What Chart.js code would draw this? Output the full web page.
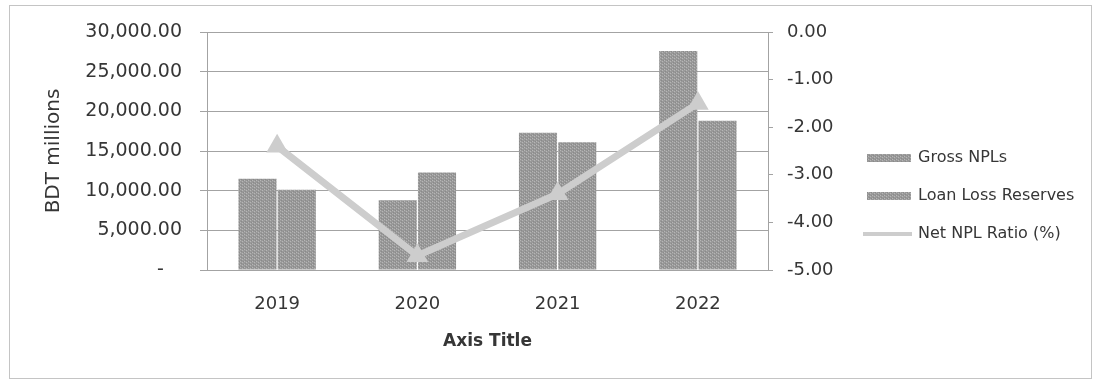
<!DOCTYPE html>
<html>
<head>
<meta charset="utf-8">
<script src="https://cdn.jsdelivr.net/npm/chart.js@4.4.1/dist/chart.umd.min.js"></script>
<style>
  html, body { margin: 0; padding: 0; background: #ffffff; }
  #wrap { position: relative; width: 1095px; height: 382px; }
  canvas { display: block; }
</style>
</head>
<body>
<div id="wrap"><canvas id="c" width="1095" height="382"></canvas></div>
<script>
// Years on the category axis
const years = ['2019', '2020', '2021', '2022'];
// BDT millions
const grossNPLs = [11500, 8800, 17300, 27600];
const loanLossReserves = [10100, 12300, 16100, 18800];
// Net NPL ratio, percent (right axis)
const netNplRatio = [-2.4, -4.7, -3.4, -1.5];
// Axis ranges and tick steps
const leftAxisRange = [0, 30000, 5000];
const rightAxisRange = [-5, 0, 1];

const FONT = 'DejaVu Sans';
const TEXT = '#363636';
const GRID = '#a3a3a3';
const LINE_GREY = '#cdcdcd';

// Speckled grey fill used for the bars
function speckle() {
  const p = document.createElement('canvas');
  p.width = 4; p.height = 3;
  const g = p.getContext('2d');
  g.fillStyle = '#999999';
  g.fillRect(0, 0, 4, 3);
  g.fillStyle = '#b6b6b6';
  g.fillRect(0, 0, 1, 1);
  g.fillRect(2, 1, 1, 1);
  g.fillStyle = '#8a8a8a';
  g.fillRect(1, 2, 1, 1);
  g.fillRect(3, 0, 1, 1);
  return g.createPattern(p, 'repeat');
}
const barFill = speckle();

// Outer frame of the chart
const framePlugin = {
  id: 'frame',
  beforeDraw(chart) {
    const ctx = chart.ctx;
    ctx.save();
    ctx.fillStyle = '#ffffff';
    ctx.fillRect(0, 0, chart.width, chart.height);
    ctx.strokeStyle = '#c4c4c4';
    ctx.lineWidth = 1;
    ctx.strokeRect(9.5, 5.5, chart.width - 13, chart.height - 9);
    ctx.restore();
  }
};

// Legend stacked to the right of the value axis
const sideLegend = {
  id: 'sideLegend',
  afterDraw(chart) {
    const ctx = chart.ctx;
    const x0 = 867, rows = [158, 196, 234];
    ctx.save();
    ctx.font = '16px "' + FONT + '"';
    ctx.textBaseline = 'middle';
    ctx.textAlign = 'left';
    chart.data.datasets.forEach((ds, i) => {
      const y = rows[i];
      if (ds.type === 'line') {
        ctx.strokeStyle = ds.borderColor;
        ctx.lineWidth = 4;
        ctx.beginPath();
        ctx.moveTo(x0 - 4, y);
        ctx.lineTo(x0 + 45, y);
        ctx.stroke();
      } else {
        ctx.fillStyle = ds.backgroundColor;
        ctx.fillRect(x0, y - 4, 44, 8);
      }
      ctx.fillStyle = TEXT;
      ctx.fillText(ds.label, x0 + 51, y);
    });
    ctx.restore();
  }
};

new Chart(document.getElementById('c'), {
  data: {
    labels: years,
    datasets: [
      {
        type: 'bar',
        label: 'Gross NPLs',
        data: grossNPLs,
        backgroundColor: barFill,
        yAxisID: 'y',
        order: 1,
        categoryPercentage: 0.56,
        barPercentage: 0.97
      },
      {
        type: 'bar',
        label: 'Loan Loss Reserves',
        data: loanLossReserves,
        backgroundColor: barFill,
        yAxisID: 'y',
        order: 1,
        categoryPercentage: 0.56,
        barPercentage: 0.97
      },
      {
        type: 'line',
        label: 'Net NPL Ratio (%)',
        data: netNplRatio,
        borderColor: LINE_GREY,
        backgroundColor: LINE_GREY,
        borderWidth: 7,
        pointStyle: 'triangle',
        pointRadius: 12.5,
        pointBorderWidth: 0,
        pointBackgroundColor: LINE_GREY,
        tension: 0,
        yAxisID: 'y1',
        order: 0
      }
    ]
  },
  options: {
    responsive: false,
    animation: false,
    devicePixelRatio: 1,
    layout: { padding: { left: 0, right: 237, top: 32, bottom: 0 } },
    plugins: {
      legend: { display: false },
      tooltip: { enabled: false }
    },
    scales: {
      x: {
        offset: true,
        grid: { display: false, drawTicks: false },
        border: { display: false },
        ticks: { color: TEXT, font: { family: FONT, size: 18 }, padding: 24 },
        title: {
          display: true,
          text: 'Axis Title',
          color: TEXT,
          font: { family: FONT, size: 17, weight: 'bold' },
          padding: { top: 0, bottom: 30 }
        },
        afterFit(scale) { scale.height = 112; }
      },
      y: {
        position: 'left',
        min: leftAxisRange[0],
        max: leftAxisRange[1],
        grid: { color: GRID, lineWidth: 1, tickLength: 7, tickColor: GRID },
        border: { display: true, color: GRID },
        ticks: {
          stepSize: leftAxisRange[2],
          color: TEXT,
          font: { family: FONT, size: 19 },
          padding: 18,
          callback: v => v === 0 ? '-   ' : v.toLocaleString('en-US', { minimumFractionDigits: 2, maximumFractionDigits: 2 })
        },
        title: {
          display: true,
          text: 'BDT millions',
          color: TEXT,
          font: { family: FONT, size: 20 },
          padding: { top: 42, bottom: 0 }
        },
        afterFit(scale) { scale.width = 207; }
      },
      y1: {
        position: 'right',
        min: rightAxisRange[0],
        max: rightAxisRange[1],
        grid: { drawOnChartArea: false, tickLength: 5, tickColor: GRID },
        border: { display: true, color: GRID },
        ticks: {
          stepSize: rightAxisRange[2],
          color: TEXT,
          font: { family: FONT, size: 18 },
          padding: 14,
          callback: v => v.toFixed(2)
        },
        afterFit(scale) { scale.width = 90; }
      }
    }
  },
  plugins: [framePlugin, sideLegend]
});
</script>
</body>
</html>
